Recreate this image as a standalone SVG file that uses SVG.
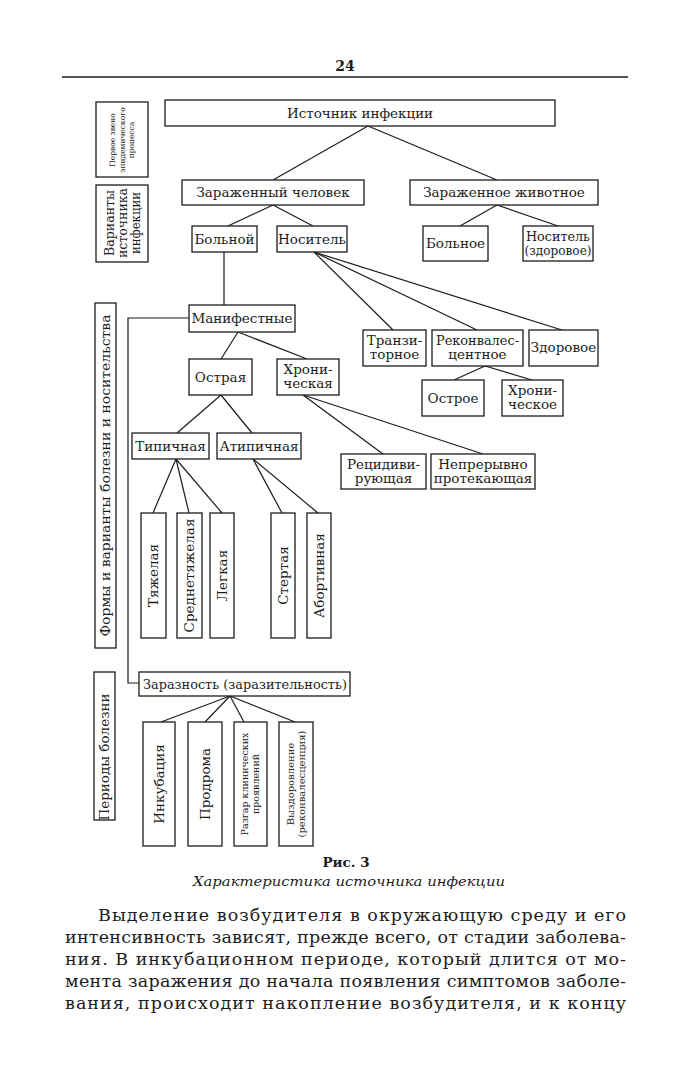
<svg xmlns="http://www.w3.org/2000/svg" width="691" height="1080" viewBox="0 0 691 1080">
<style>
.b{fill:#fff;stroke:#1c1c1c;stroke-width:1.3}
.t{font-family:"DejaVu Serif","Liberation Serif",serif;font-size:13.5px;fill:#1c1c1c;text-anchor:middle}
.s{font-size:7.5px}
.m{font-size:13px}
.r{font-size:9.5px}
.c{stroke:#1c1c1c;stroke-width:1.2;fill:none}
.p{font-family:"DejaVu Serif","Liberation Serif",serif;font-size:17.5px;fill:#1c1c1c}
</style>
<rect width="691" height="1080" fill="#fff"/>
<text class="t" x="345" y="71" style="font-size:14px;font-weight:bold">24</text>
<line x1="62" y1="77" x2="628" y2="77" stroke="#1c1c1c" stroke-width="1.6"/>

<g id="connectors">
<line class="c" x1="368" y1="126" x2="273" y2="180"/>
<line class="c" x1="368" y1="126" x2="497" y2="180"/>
<line class="c" x1="273" y1="205" x2="228" y2="226"/>
<line class="c" x1="273" y1="205" x2="313" y2="226"/>
<line class="c" x1="497" y1="205" x2="460" y2="226"/>
<line class="c" x1="497" y1="205" x2="558" y2="226"/>
<line class="c" x1="224" y1="252" x2="224" y2="305"/>
<line class="c" x1="314" y1="252" x2="393" y2="330"/>
<line class="c" x1="314" y1="252" x2="477" y2="330"/>
<line class="c" x1="314" y1="252" x2="562" y2="330"/>
<line class="c" x1="485" y1="366" x2="454" y2="380"/>
<line class="c" x1="485" y1="366" x2="532" y2="380"/>
<line class="c" x1="238" y1="332" x2="221" y2="359"/>
<line class="c" x1="238" y1="332" x2="307" y2="359"/>
<line class="c" x1="303" y1="395" x2="383" y2="454"/>
<line class="c" x1="303" y1="395" x2="483" y2="454"/>
<line class="c" x1="221" y1="395" x2="177" y2="433"/>
<line class="c" x1="221" y1="395" x2="252" y2="433"/>
<line class="c" x1="176" y1="459" x2="153" y2="513"/>
<line class="c" x1="176" y1="459" x2="189" y2="513"/>
<line class="c" x1="176" y1="459" x2="222" y2="513"/>
<line class="c" x1="253" y1="459" x2="282" y2="513"/>
<line class="c" x1="253" y1="459" x2="318" y2="513"/>
<polyline class="c" points="189,318 128,318 128,683 139,683"/>
<line class="c" x1="230" y1="696" x2="161" y2="722"/>
<line class="c" x1="230" y1="696" x2="205" y2="722"/>
<line class="c" x1="230" y1="696" x2="244" y2="722"/>
<line class="c" x1="230" y1="696" x2="295" y2="722"/>
</g>

<g id="label-first-link"><rect class="b" x="96" y="102" width="52" height="75"/>
<g transform="translate(122,140) rotate(-90)"><text class="t s" x="0" y="-6.9">Первое звено</text><text class="t s" x="0" y="2.6">эпидемического</text><text class="t s" x="0" y="12.1">процесса</text></g></g>
<g id="label-variants"><rect class="b" x="96" y="185" width="52" height="77"/>
<g transform="translate(122,223) rotate(-90)"><text class="t m" x="0" y="-8.5" textLength="66" lengthAdjust="spacingAndGlyphs">Варианты</text><text class="t m" x="0" y="4.5" textLength="70" lengthAdjust="spacingAndGlyphs">источника</text><text class="t m" x="0" y="18" textLength="62" lengthAdjust="spacingAndGlyphs">инфекции</text></g></g>
<g id="label-forms"><rect class="b" x="95" y="303" width="21" height="345"/>
<g transform="translate(105.5,475.5) rotate(-90)"><text class="t" x="0" y="4.7" textLength="322" lengthAdjust="spacingAndGlyphs">Формы и варианты болезни и носительства</text></g></g>
<g id="label-periods"><rect class="b" x="94" y="672" width="21" height="148"/>
<g transform="translate(104.5,757) rotate(-90)"><text class="t" x="0" y="4.7">Периоды болезни</text></g></g>

<g id="n-source"><rect class="b" x="165" y="100" width="390" height="26"/><text class="t" x="360" y="118">Источник инфекции</text></g>
<g id="n-human"><rect class="b" x="182" y="180" width="182" height="25"/><text class="t" x="273" y="197">Зараженный человек</text></g>
<g id="n-animal"><rect class="b" x="410" y="180" width="188" height="25"/><text class="t" x="504" y="197">Зараженное животное</text></g>
<g id="n-sick"><rect class="b" x="192" y="226" width="65" height="26"/><text class="t" x="224.5" y="244">Больной</text></g>
<g id="n-carrier"><rect class="b" x="277" y="226" width="70" height="26"/><text class="t" x="312" y="244">Носитель</text></g>
<g id="n-animal-sick"><rect class="b" x="423" y="226" width="65" height="35"/><text class="t" x="455.5" y="248">Больное</text></g>
<g id="n-animal-carrier"><rect class="b" x="523" y="226" width="70" height="35"/><text class="t" x="558" y="241" textLength="64" lengthAdjust="spacingAndGlyphs">Носитель</text><text class="t" x="558" y="255" textLength="67" lengthAdjust="spacingAndGlyphs">(здоровое)</text></g>
<g id="n-manifest"><rect class="b" x="189" y="305" width="106" height="27"/><text class="t" x="242" y="323">Манифестные</text></g>
<g id="n-acute"><rect class="b" x="189" y="359" width="63" height="36"/><text class="t" x="220.5" y="382">Острая</text></g>
<g id="n-chronic"><rect class="b" x="277" y="359" width="62" height="36"/><text class="t" x="308" y="374">Хрони-</text><text class="t" x="308" y="388">ческая</text></g>
<g id="n-typical"><rect class="b" x="132" y="433" width="77" height="26"/><text class="t" x="170.5" y="451">Типичная</text></g>
<g id="n-atypical"><rect class="b" x="217" y="433" width="84" height="26"/><text class="t" x="259" y="451">Атипичная</text></g>
<g id="n-transit"><rect class="b" x="363" y="330" width="63" height="36"/><text class="t" x="394.5" y="345">Транзи-</text><text class="t" x="394.5" y="359">торное</text></g>
<g id="n-reconv"><rect class="b" x="432" y="330" width="91" height="36"/><text class="t" x="477.5" y="345" textLength="83" lengthAdjust="spacingAndGlyphs">Реконвалес-</text><text class="t" x="477.5" y="359">центное</text></g>
<g id="n-healthy"><rect class="b" x="529" y="330" width="69" height="36"/><text class="t" x="563.5" y="352">Здоровое</text></g>
<g id="n-acute2"><rect class="b" x="422" y="380" width="62" height="36"/><text class="t" x="453" y="403">Острое</text></g>
<g id="n-chronic2"><rect class="b" x="502" y="380" width="61" height="36"/><text class="t" x="532.5" y="395">Хрони-</text><text class="t" x="532.5" y="409">ческое</text></g>
<g id="n-recid"><rect class="b" x="341" y="454" width="85" height="35"/><text class="t" x="383.5" y="469">Рецидиви-</text><text class="t" x="383.5" y="483">рующая</text></g>
<g id="n-contin"><rect class="b" x="431" y="454" width="104" height="35"/><text class="t" x="483" y="469">Непрерывно</text><text class="t" x="483" y="483">протекающая</text></g>

<g id="n-severe"><rect class="b" x="141" y="513" width="25" height="125"/><g transform="translate(153.5,575.5) rotate(-90)"><text class="t" x="0" y="4.7">Тяжелая</text></g></g>
<g id="n-medium"><rect class="b" x="177" y="513" width="25" height="125"/><g transform="translate(189.5,575.5) rotate(-90)"><text class="t" x="0" y="4.7">Среднетяжелая</text></g></g>
<g id="n-light"><rect class="b" x="210" y="513" width="24" height="125"/><g transform="translate(222,575.5) rotate(-90)"><text class="t" x="0" y="4.7">Легкая</text></g></g>
<g id="n-erased"><rect class="b" x="271" y="513" width="24" height="125"/><g transform="translate(283,575.5) rotate(-90)"><text class="t" x="0" y="4.7">Стертая</text></g></g>
<g id="n-abortive"><rect class="b" x="307" y="513" width="24" height="125"/><g transform="translate(319,575.5) rotate(-90)"><text class="t" x="0" y="4.7">Абортивная</text></g></g>

<g id="n-contag"><rect class="b" x="139" y="672" width="211" height="24"/><text class="t" x="245" y="689" textLength="204" lengthAdjust="spacingAndGlyphs">Заразность (заразительность)</text></g>
<g id="n-incub"><rect class="b" x="143" y="722" width="32" height="124"/><g transform="translate(159,784) rotate(-90)"><text class="t" x="0" y="4.7">Инкубация</text></g></g>
<g id="n-prodrome"><rect class="b" x="188" y="722" width="34" height="124"/><g transform="translate(205,784) rotate(-90)"><text class="t" x="0" y="4.7">Продрома</text></g></g>
<g id="n-peak"><rect class="b" x="234" y="722" width="33" height="124"/><g transform="translate(250.5,784) rotate(-90)"><text class="t r" x="0" y="-2.5">Разгар клинических</text><text class="t r" x="0" y="8.5">проявлений</text></g></g>
<g id="n-recovery"><rect class="b" x="279" y="722" width="34" height="124"/><g transform="translate(296,784) rotate(-90)"><text class="t" x="0" y="-2.5" style="font-size:10px">Выздоровление</text><text class="t" x="0" y="9" style="font-size:10px">(реконвалесценция)</text></g></g>

<text class="t" x="346" y="867" style="font-weight:bold;font-size:13.5px">Рис. 3</text>
<text class="t" x="349" y="886" style="font-style:italic" textLength="312" lengthAdjust="spacingAndGlyphs">Характеристика источника инфекции</text>

<text class="p" x="98" y="921" textLength="528" lengthAdjust="spacing">Выделение возбудителя в окружающую среду и его</text>
<text class="p" x="65" y="943" textLength="561" lengthAdjust="spacing">интенсивность зависят, прежде всего, от стадии заболева-</text>
<text class="p" x="65" y="965" textLength="561" lengthAdjust="spacing">ния. В инкубационном периоде, который длится от мо-</text>
<text class="p" x="65" y="987" textLength="561" lengthAdjust="spacing">мента заражения до начала появления симптомов заболе-</text>
<text class="p" x="65" y="1009" textLength="561" lengthAdjust="spacing">вания, происходит накопление возбудителя, и к концу</text>
</svg>
